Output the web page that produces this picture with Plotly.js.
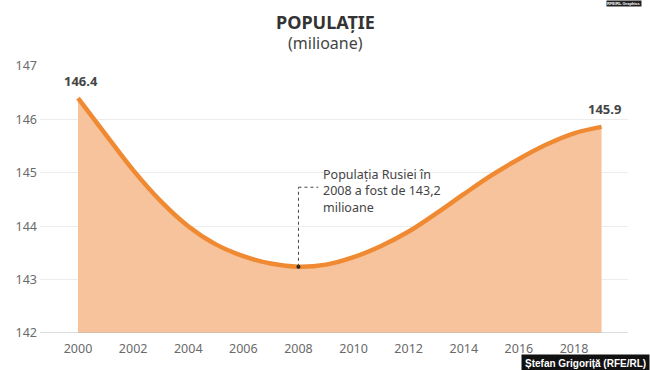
<!DOCTYPE html>
<html>
<head>
<meta charset="utf-8">
<script src="https://cdn.plot.ly/plotly-3.0.1.min.js"></script>
<style>html,body{margin:0;padding:0;background:#fff;}#chart{width:650px;height:370px;}</style>
</head>
<body>
<div id="chart"></div>
<script>
const years = [2000,2001,2002,2003,2004,2005,2006,2007,2008,2009,2010,2011,2012,2013,2014,2015,2016,2017,2018,2019];
const population = [146.4,145.72,145.05,144.47,144.0,143.66,143.44,143.30,143.24,143.28,143.42,143.63,143.9,144.24,144.6,144.95,145.26,145.53,145.74,145.86];
const xTicks = [2000,2002,2004,2006,2008,2010,2012,2014,2016,2018];
const yTicks = [142,143,144,145,146,147];
const startLabel = "146.4";
const endLabel = "145.9";
const noteYear = 2008;
const noteValue = 143.24;
const noteText = "Populația Rusiei în<br>2008 a fost de 143,2<br>milioane";
const titleText = "<b>POPULAȚIE</b>";
const subtitleText = "(milioane)";
const creditText = "<b>Ștefan Grigoriță (RFE/RL)</b>";

const FONT = "Noto Sans, Open Sans, sans-serif";
const lastYear = years[years.length-1];
const lastVal = population[population.length-1];
const pageCenter = (325 - 40) / 588;

const traces = [{
  x: years, y: population, type: 'scatter', mode: 'lines',
  line: {color: '#ef8a33', width: 4.5, shape: 'spline', smoothing: 1},
  fill: 'tozeroy', fillcolor: '#f6c39c',
  hoverinfo: 'skip', showlegend: false
}, {
  x: [noteYear], y: [noteValue], type: 'scatter', mode: 'markers',
  marker: {color: '#222', size: 4}, hoverinfo: 'skip', showlegend: false
}];

const layout = {
  width: 650, height: 370,
  margin: {l: 40, r: 22, t: 66, b: 37},
  paper_bgcolor: '#fff', plot_bgcolor: '#fff',
  font: {family: FONT, color: '#666'},
  xaxis: {
    range: [1998.62, 2019.96], tickvals: xTicks, ticktext: xTicks.map(String),
    showgrid: false, zeroline: false, showline: false,
    tickfont: {size: 12.5, color: '#6a6a6a'}, ticks: '', ticklen: 0, ticklabelstandoff: 6
  },
  yaxis: {
    range: [142, 147], tickvals: yTicks, ticktext: yTicks.map(String),
    showgrid: true, gridcolor: '#ececec', gridwidth: 1, zeroline: false,
    tickfont: {size: 12.5, color: '#6a6a6a'}, ticks: '', ticklabelstandoff: 2
  },
  shapes: [
    {type: 'line', xref: 'paper', yref: 'y', x0: 0, x1: 1, y0: 142, y1: 142,
     line: {color: '#bbb', width: 1}, layer: 'above'},
    {type: 'line', xref: 'x', yref: 'y', x0: noteYear, x1: noteYear, y0: noteValue, y1: 144.73,
     line: {color: '#444', width: 1, dash: 'dot'}},
    {type: 'line', xref: 'x', yref: 'y', x0: noteYear, x1: 2008.72, y0: 144.73, y1: 144.73,
     line: {color: '#444', width: 1, dash: 'dot'}}
  ],
  annotations: [
    {text: titleText, xref: 'paper', yref: 'paper', x: pageCenter, xanchor: 'center',
     y: 1, yanchor: 'bottom', yshift: 30, showarrow: false,
     font: {size: 18, color: '#333', family: FONT}},
    {text: subtitleText, xref: 'paper', yref: 'paper', x: pageCenter, xanchor: 'center',
     y: 1, yanchor: 'bottom', yshift: 10, showarrow: false,
     font: {size: 16, color: '#444', family: FONT}},
    {text: '<b>' + startLabel + '</b>', xref: 'x', yref: 'y', x: years[0], y: population[0],
     xanchor: 'center', yanchor: 'bottom', xshift: 3, yshift: 6, showarrow: false,
     font: {size: 13, color: '#444', family: FONT}},
    {text: '<b>' + endLabel + '</b>', xref: 'x', yref: 'y', x: lastYear, y: lastVal,
     xanchor: 'center', yanchor: 'bottom', xshift: 3, yshift: 7, showarrow: false,
     font: {size: 13, color: '#444', family: FONT}},
    {text: noteText, xref: 'x', yref: 'y', x: 2008.82, y: 144.73, xanchor: 'left', yanchor: 'middle',
     yshift: -4, align: 'left', showarrow: false,
     font: {size: 12.5, color: '#444', family: FONT}},
    {text: creditText, xref: 'paper', yref: 'paper', x: 1, y: 0, xanchor: 'right', yanchor: 'top',
     xshift: 22, yshift: -21, showarrow: false, bgcolor: '#111', borderpad: 3,
     font: {size: 10, color: '#fff', family: 'Liberation Sans, Arial, sans-serif'}},
    {text: '<b>RFE/RL Graphics</b>', xref: 'paper', yref: 'paper', x: 1, y: 1, xanchor: 'right', yanchor: 'top',
     xshift: 14, yshift: 66, showarrow: false, bgcolor: '#222', borderpad: 0,
     font: {size: 4, color: '#fff', family: 'Liberation Sans, Arial, sans-serif'}}
  ]
};

Plotly.newPlot('chart', traces, layout, {displayModeBar: false, staticPlot: true});
</script>
</body>
</html>
